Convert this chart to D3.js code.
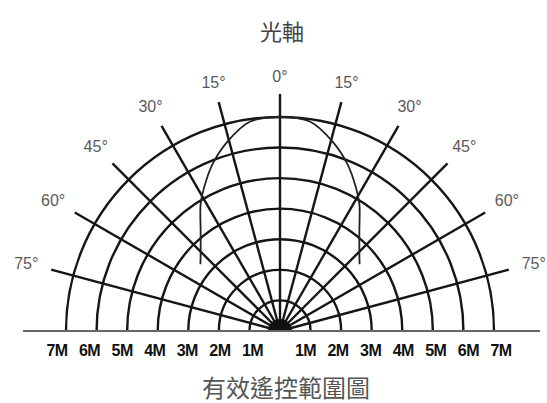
<!DOCTYPE html>
<html>
<head>
<meta charset="utf-8">
<script src="https://cdn.jsdelivr.net/npm/d3@7"></script>
<style>
  html, body { margin: 0; padding: 0; background: #fff; }
  svg { display: block; }
</style>
</head>
<body>
<svg id="chart" width="547" height="403"></svg>
<script>
// Rings (metres), spokes (degrees from the optical axis) and labels
const distances = [1, 2, 3, 4, 5, 6, 7];
const angles = [-75, -60, -45, -30, -15, 0, 15, 30, 45, 60, 75];
const angleLabels = ["75°", "60°", "45°", "30°", "15°", "0°", "15°", "30°", "45°", "60°", "75°"];
const leftLabels = ["7M", "6M", "5M", "4M", "3M", "2M", "1M"];
const rightLabels = ["1M", "2M", "3M", "4M", "5M", "6M", "7M"];

// Effective range curve: [angle, distance in M]
const lobeAngles = [-50, -46.5, -38.4, -32, -28, -22, -15.5, -8.1, 0, 8.1, 15.5, 22, 28, 32, 38.4, 46.5, 50];
const lobeDist = [3.4, 3.58, 4.18, 4.9, 5.3, 5.89, 6.43, 6.92, 7.0, 6.92, 6.43, 5.89, 5.3, 4.9, 4.18, 3.58, 3.4];

const svg = d3.select("#chart");
const cx = 280, cy = 331;
const rad = d => d * Math.PI / 180;

const r = d3.scaleLinear().domain([0, 7]).range([0, 214]);
const labelPos = d3.scaleLinear().domain([1, 7]).range([27.5, 223]);

const g = svg.append("g").attr("transform", `translate(${cx},${cy})`);

// Baseline
svg.append("line")
  .attr("x1", 23).attr("x2", 540)
  .attr("y1", cy).attr("y2", cy)
  .attr("stroke", "#666")
  .attr("stroke-width", 2);

// Rings
const ring = d3.arc()
  .innerRadius(d => r(d))
  .outerRadius(d => r(d))
  .startAngle(-Math.PI / 2)
  .endAngle(Math.PI / 2);

g.selectAll("path.ring")
  .data(distances)
  .join("path")
  .attr("class", "ring")
  .attr("d", ring)
  .attr("fill", "none")
  .attr("stroke", "#151515")
  .attr("stroke-width", 2.4);

// Spokes
g.selectAll("line.spoke")
  .data(angles)
  .join("line")
  .attr("class", "spoke")
  .attr("x1", 0).attr("y1", 0)
  .attr("x2", d => r(7.75) * Math.sin(rad(d)))
  .attr("y2", d => -r(7.75) * Math.cos(rad(d)))
  .attr("stroke", "#151515")
  .attr("stroke-width", 2.4);

// Effective range curve
const lobe = d3.lineRadial()
  .angle(d => rad(d[0]))
  .radius(d => r(d[1]))
  .curve(d3.curveCatmullRom);

g.append("path")
  .datum(d3.zip(lobeAngles, lobeDist))
  .attr("d", lobe)
  .attr("fill", "none")
  .attr("stroke", "#222")
  .attr("stroke-width", 1.8);

// Dark hub at the origin
g.append("path")
  .attr("d", d3.arc().innerRadius(0).outerRadius(12).startAngle(-Math.PI / 2).endAngle(Math.PI / 2)())
  .attr("fill", "#111");

// Angle labels
g.selectAll("text.angle")
  .data(angles)
  .join("text")
  .attr("class", "angle")
  .attr("x", d => (255 + 8 * Math.abs(Math.sin(rad(d)))) * Math.sin(rad(d)))
  .attr("y", d => -(255 + 8 * Math.abs(Math.sin(rad(d)))) * Math.cos(rad(d)))
  .attr("dy", "0.35em")
  .attr("text-anchor", "middle")
  .attr("font-family", "Liberation Sans, Arial, sans-serif")
  .attr("font-size", "16px")
  .attr("fill", "#5a5a5a")
  .text((d, i) => angleLabels[i]);

// Distance labels under the baseline
const distText = g => g
  .attr("y", 356)
  .attr("text-anchor", "middle")
  .attr("font-family", "Liberation Sans, Arial, sans-serif")
  .attr("font-weight", "bold")
  .attr("font-size", "16px")
  .attr("letter-spacing", "-0.5px")
  .attr("fill", "#111");

svg.selectAll("text.left")
  .data(leftLabels)
  .join("text")
  .attr("class", "left")
  .attr("x", (d, i) => cx - labelPos(7 - i))
  .call(distText)
  .text(d => d);

svg.selectAll("text.right")
  .data(rightLabels)
  .join("text")
  .attr("class", "right")
  .attr("x", (d, i) => cx + labelPos(i + 1) - 2)
  .call(distText)
  .text(d => d);

// Titles
svg.append("text")
  .attr("x", 282).attr("y", 40)
  .attr("text-anchor", "middle")
  .attr("font-family", "Noto Sans CJK TC, sans-serif")
  .attr("font-size", "22px")
  .attr("fill", "#444")
  .text("光軸");

svg.append("text")
  .attr("x", 286).attr("y", 397)
  .attr("text-anchor", "middle")
  .attr("font-family", "Noto Sans CJK TC, sans-serif")
  .attr("font-size", "24px")
  .attr("fill", "#555")
  .text("有效遙控範圍圖");
</script>
</body>
</html>
